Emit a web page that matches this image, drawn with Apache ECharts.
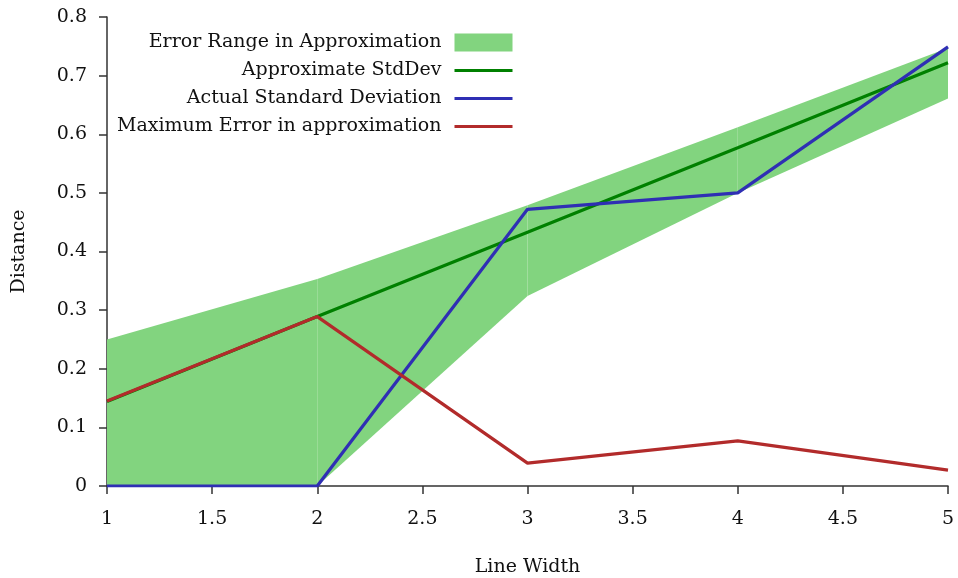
<!DOCTYPE html>
<html>
<head>
<meta charset="utf-8">
<script src="https://cdn.jsdelivr.net/npm/echarts@6/dist/echarts.min.js"></script>
<style>
  html, body { margin: 0; padding: 0; background: #fff; }
  #chart { width: 958px; height: 578px; }
</style>
</head>
<body>
<div id="chart"></div>
<script>
// Line widths on the x axis
const lineWidths = [1, 2, 3, 4, 5];
// Lower and upper edges of the error band
const bandLow  = [0, 0, 0.324, 0.500, 0.661];
const bandHigh = [0.250, 0.353, 0.479, 0.612, 0.747];
// Approximated standard deviation
const approxStdDev = [0.144, 0.289, 0.433, 0.577, 0.722];
// Measured standard deviation
const actualStdDev = [0, 0, 0.472, 0.500, 0.749];
// Largest error of the approximation
const maxError = [0.145, 0.289, 0.039, 0.077, 0.027];

const xTicks = { min: 1, max: 5, interval: 0.5 };
const yTicks = { min: 0, max: 0.8, interval: 0.1 };

const FONT = 'DejaVu Serif';
const BAND_COLOR = '#82d47f';
const pairs = (ys) => lineWidths.map((x, i) => [x, ys[i]]);
const bandData = lineWidths.map((x, i) => [x, bandLow[i], bandHigh[i]]);

// Each band item draws the quad between the previous width and its own
function renderBand(params, api) {
  const i = params.dataIndex;
  if (i === 0) return null;
  const p = bandData[i - 1];
  const x0 = p[0], lo0 = p[1], hi0 = p[2];
  const x1 = api.value(0), lo1 = api.value(1), hi1 = api.value(2);
  const pts = [
    api.coord([x0, lo0]),
    api.coord([x1, lo1]),
    api.coord([x1, hi1]),
    api.coord([x0, hi0])
  ];
  return {
    type: 'polygon',
    shape: { points: pts },
    style: { fill: BAND_COLOR }
  };
}

const chart = echarts.init(document.getElementById('chart'), null, { renderer: 'canvas' });

const axisCommon = {
  axisLine: { show: true, onZero: false, lineStyle: { color: '#333', width: 1.5 } },
  axisTick: { show: true, inside: false, length: 8, lineStyle: { color: '#333', width: 1.5 } },
  splitLine: { show: false },
  nameTextStyle: { fontFamily: FONT, fontSize: 19, color: '#111' }
};

const hiddenDot = { opacity: 0 };
const legendLine = { width: 3 };

chart.setOption({
  animation: false,
  backgroundColor: '#fff',
  grid: { left: 107, right: 10, top: 17, bottom: 92, containLabel: false, outerBoundsMode: 'none' },
  legend: {
    orient: 'vertical',
    align: 'right',
    right: 444,
    top: 33,
    padding: 0,
    itemGap: 9,
    itemWidth: 58,
    itemHeight: 18,
    selectedMode: false,
    textStyle: { fontFamily: FONT, fontSize: 19, color: '#111', padding: [0, 8, 0, 0] },
    data: [
      { name: 'Error Range in Approximation', icon: 'rect', itemStyle: { color: BAND_COLOR, borderWidth: 0 } },
      { name: 'Approximate StdDev', itemStyle: hiddenDot, lineStyle: legendLine },
      { name: 'Actual Standard Deviation', itemStyle: hiddenDot, lineStyle: legendLine },
      { name: 'Maximum Error in approximation', itemStyle: hiddenDot, lineStyle: legendLine }
    ]
  },
  xAxis: Object.assign({}, axisCommon, {
    type: 'value',
    min: xTicks.min, max: xTicks.max, interval: xTicks.interval,
    name: 'Line Width',
    nameLocation: 'middle',
    nameGap: 72,
    axisLabel: { fontFamily: FONT, fontSize: 19, color: '#111', margin: 24 }
  }),
  yAxis: Object.assign({}, axisCommon, {
    type: 'value',
    min: yTicks.min, max: yTicks.max, interval: yTicks.interval,
    name: 'Distance',
    nameLocation: 'middle',
    nameRotate: 90,
    nameGap: 78,
    axisLabel: { fontFamily: FONT, fontSize: 19, color: '#111', margin: 20 }
  }),
  series: [
    {
      name: 'Error Range in Approximation',
      type: 'custom',
      renderItem: renderBand,
      data: bandData,
      encode: { x: 0, y: [1, 2] },
      itemStyle: { color: BAND_COLOR },
      silent: true,
      z: 1
    },
    {
      name: 'Approximate StdDev',
      type: 'line',
      symbol: 'none',
      data: pairs(approxStdDev),
      itemStyle: { color: '#008000' },
      lineStyle: { color: '#008000', width: 3.2 },
      z: 2
    },
    {
      name: 'Actual Standard Deviation',
      type: 'line',
      symbol: 'none',
      data: pairs(actualStdDev),
      itemStyle: { color: '#2f2fb4' },
      lineStyle: { color: '#2f2fb4', width: 3.2 },
      z: 3
    },
    {
      name: 'Maximum Error in approximation',
      type: 'line',
      symbol: 'none',
      data: pairs(maxError),
      itemStyle: { color: '#b22b2b' },
      lineStyle: { color: '#b22b2b', width: 3.2 },
      z: 4
    }
  ]
});
</script>
</body>
</html>
